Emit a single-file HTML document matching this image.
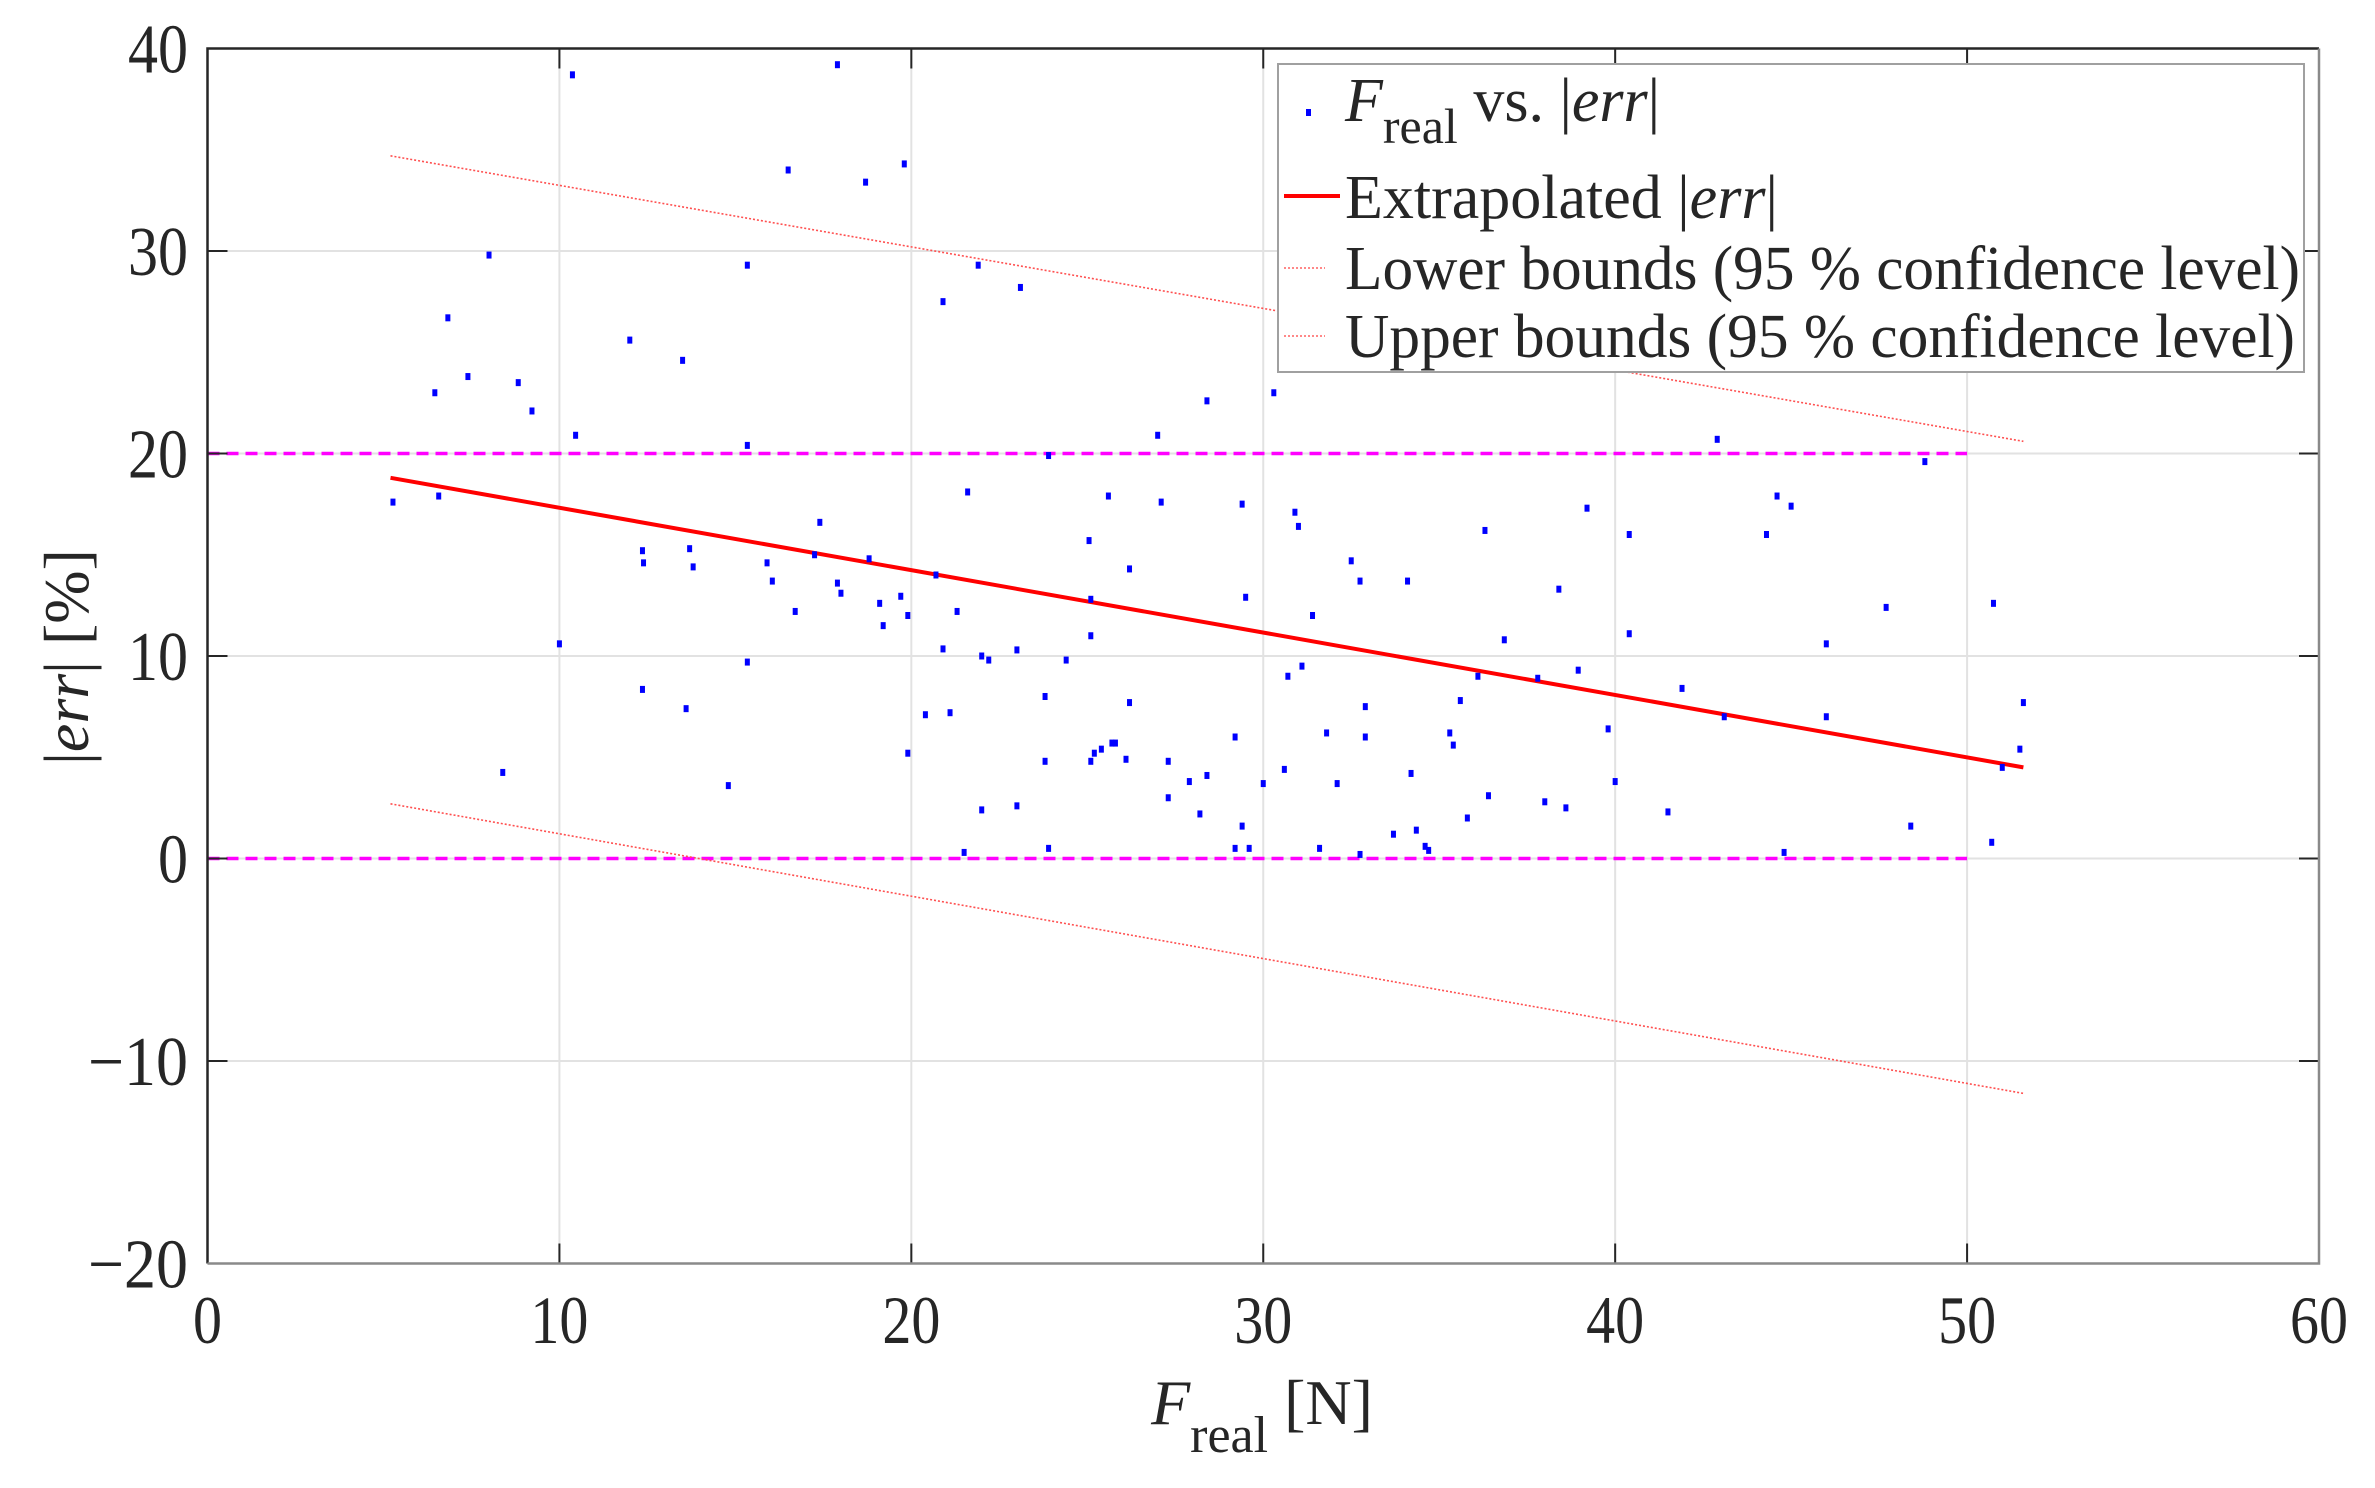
<!DOCTYPE html>
<html><head><meta charset="utf-8"><style>
html,body{margin:0;padding:0;background:#fff;}
svg{display:block;font-family:"Liberation Serif",serif;}
</style></head><body>
<svg id="chart" width="2375" height="1488" viewBox="0 0 2375 1488" xmlns="http://www.w3.org/2000/svg">
<rect x="0" y="0" width="2375" height="1488" fill="#fff"/>
<g id="grid"></g>
<g id="series"></g>
<g id="axes"></g>
<g id="legend">
<rect x="1278" y="64" width="1026" height="308" fill="#fff" stroke="#a0a0a0" stroke-width="2"/>
<rect x="1306" y="109" width="5" height="7" fill="#0000ff"/>
<text x="1345" y="121" font-size="62" fill="#262626"><tspan font-style="italic">F</tspan><tspan font-size="50" dy="22">real</tspan><tspan dy="-22"> vs. |</tspan><tspan font-style="italic">err</tspan><tspan>|</tspan></text>
<line x1="1284" y1="196" x2="1340" y2="196" stroke="#ff0000" stroke-width="4"/>
<text x="1345" y="218" font-size="62" fill="#262626">Extrapolated |<tspan font-style="italic">err</tspan>|</text>
<line x1="1284" y1="268" x2="1325" y2="268" stroke="#ff6060" stroke-width="1.5" stroke-dasharray="2,2"/>
<text x="1345" y="289" font-size="62" fill="#262626" textLength="955" lengthAdjust="spacingAndGlyphs">Lower bounds (95 % confidence level)</text>
<line x1="1284" y1="336" x2="1325" y2="336" stroke="#ff6060" stroke-width="1.5" stroke-dasharray="2,2"/>
<text x="1345" y="357" font-size="62" fill="#262626" textLength="950" lengthAdjust="spacingAndGlyphs">Upper bounds (95 % confidence level)</text>
</g>
<text transform="translate(88,657) rotate(-90)" text-anchor="middle" font-size="64" fill="#262626">|<tspan font-style="italic">err</tspan>| [%]</text>
<text x="1262" y="1424" text-anchor="middle" font-size="64" fill="#262626"><tspan font-style="italic">F</tspan><tspan font-size="52" dy="28">real</tspan><tspan dy="-28"> [N]</tspan></text>
</svg>
<script>
const xTicks = [0,10,20,30,40,50,60];
const yTicks = [-20,-10,0,10,20,30,40];
const xTickLabels = ["0","10","20","30","40","50","60"];
const yTickLabels = ["\u221220","\u221210","0","10","20","30","40"];
const pointsX = [5.27,6.57,6.46,6.83,7.40,8.0,8.39,8.83,9.22,10.0,10.37,10.46,12.0,12.36,12.36,12.39,13.5,13.6,13.7,13.8,14.8,15.34,15.34,15.34,15.9,16.05,16.5,16.7,17.4,17.25,17.9,18.7,18.8,17.9,18.0,19.1,19.2,19.7,19.9,19.8,20.9,20.7,21.3,21.6,21.9,20.9,20.4,21.1,22.0,22.2,23.1,23.0,23.9,23.8,24.4,25.05,25.1,25.1,25.6,26.2,26.2,27.1,27.0,25.7,25.2,19.9,21.5,22.0,23.0,23.8,23.9,25.1,25.4,25.8,26.1,27.3,27.3,27.9,28.2,28.4,28.4,29.2,29.4,29.5,29.4,29.2,29.6,30.0,30.3,30.6,30.7,30.9,31.0,31.1,31.4,31.6,31.8,32.1,32.5,32.75,32.9,32.9,32.75,33.7,34.1,34.2,34.35,34.6,34.7,35.3,35.4,35.6,35.8,36.1,36.3,36.4,36.85,37.8,38.0,38.4,38.6,38.95,39.2,39.8,40.0,40.4,40.4,41.5,41.9,42.9,43.1,44.3,44.6,44.8,45.0,46.0,46.0,47.7,48.4,48.8,50.7,50.75,51.0,51.5,51.6];
const pointsY = [17.6,17.9,23.0,26.7,23.8,29.8,4.25,23.5,22.1,10.6,38.7,20.9,25.6,8.35,15.2,14.6,24.6,7.4,15.3,14.4,3.6,29.3,20.4,9.7,14.6,13.7,34.0,12.2,16.6,15.0,39.2,33.4,14.8,13.6,13.1,12.6,11.5,12.95,12.0,34.3,27.5,14.0,12.2,18.1,29.3,10.35,7.1,7.2,10.0,9.8,28.2,10.3,19.9,8.0,9.8,15.7,12.8,11.0,17.9,14.3,7.7,17.6,20.9,5.7,5.2,5.2,0.3,2.4,2.6,4.8,0.5,4.8,5.4,5.7,4.9,4.8,3.0,3.8,2.2,4.1,22.6,6.0,17.5,12.9,1.6,0.5,0.5,3.7,23.0,4.4,9.0,17.1,16.4,9.5,12.0,0.5,6.2,3.7,14.7,13.7,7.5,6.0,0.2,1.2,13.7,4.2,1.4,0.6,0.4,6.2,5.6,7.8,2.0,9.0,16.2,3.1,10.8,8.9,2.8,13.3,2.5,9.3,17.3,6.4,3.8,16.0,11.1,2.3,8.4,20.7,7.0,16.0,17.9,0.3,17.4,10.6,7.0,12.4,1.6,19.6,0.8,12.6,4.5,5.4,7.7];
const fitX = [5.2,51.6];
const fitY = [18.8,4.5];
const upperY = [34.7,20.6];
const lowerY = [2.7,-11.6];
const refX = [0,50];
const refLevels = [0,20];

const L=207.5,R=2319,T=48.5,B=1263.5;
const xs=v=>L+(v-0)/60*(R-L);
const ys=v=>B-(v+20)/60*(B-T);
const NS="http://www.w3.org/2000/svg";
function mk(tag,parent,attrs){const e=document.createElementNS(NS,tag);for(const k in attrs)e.setAttribute(k,attrs[k]);parent.appendChild(e);return e;}
const grid=document.getElementById('grid'),series=document.getElementById('series'),axes=document.getElementById('axes');
xTicks.forEach((t,i)=>{
  if(t>0&&t<60){const g=mk('line',grid,{x1:xs(t),x2:xs(t),y1:T,y2:B,stroke:'#e2e2e2','stroke-width':2});
  
  }
  const tk=mk('line',axes,{x1:xs(t),x2:xs(t),y1:B,y2:B-20,stroke:'#262626','stroke-width':2});
  
  
  const tk2=mk('line',axes,{x1:xs(t),x2:xs(t),y1:T,y2:T+20,stroke:'#262626','stroke-width':2});
  
  
  const lb=mk('text',axes,{x:xs(t),y:1343,'text-anchor':'middle','font-size':68,fill:'#262626',textLength:xTickLabels[i].length*29,lengthAdjust:'spacingAndGlyphs'});
  lb.textContent=xTickLabels[i];
  
  
});
yTicks.forEach((t,i)=>{
  if(t>-20&&t<40){const g=mk('line',grid,{x1:L,x2:R,y1:ys(t),y2:ys(t),stroke:'#e2e2e2','stroke-width':2});
  
  }
  const tk=mk('line',axes,{x1:L,x2:L+20,y1:ys(t),y2:ys(t),stroke:'#262626','stroke-width':2});
  
  
  const tk2=mk('line',axes,{x1:R,x2:R-20,y1:ys(t),y2:ys(t),stroke:'#262626','stroke-width':2});
  
  
  const s=yTickLabels[i];
  const lb=mk('text',axes,{x:188,y:ys(t)+24,'text-anchor':'end','font-size':70,fill:'#262626',textLength:s.replace('\u2212','').length*30+(s[0]=='\u2212'?40:0),lengthAdjust:'spacingAndGlyphs'});
  lb.textContent=s;
  
  
});
const box=mk('path',axes,{d:`M${L},${B}L${L},${T}L${R},${T}`,fill:'none',stroke:'#262626','stroke-width':2.5});


const box2=mk('path',axes,{d:`M${L},${B}L${R},${B}L${R},${T}`,fill:'none',stroke:'#8a8a8a','stroke-width':2.5});


refLevels.forEach(v=>{
  const l=mk('line',series,{x1:xs(refX[0]),x2:xs(refX[1]),y1:ys(v),y2:ys(v),stroke:'#ff00ff','stroke-width':3.5,'stroke-dasharray':'12,7'});
  
  
});
const up=mk('line',series,{x1:xs(fitX[0]),y1:ys(upperY[0]),x2:xs(fitX[1]),y2:ys(upperY[1]),stroke:'#ff5050','stroke-width':1.6,'stroke-dasharray':'2,2'});


const lo=mk('line',series,{x1:xs(fitX[0]),y1:ys(lowerY[0]),x2:xs(fitX[1]),y2:ys(lowerY[1]),stroke:'#ff5050','stroke-width':1.6,'stroke-dasharray':'2,2'});


const fit=mk('line',series,{x1:xs(fitX[0]),y1:ys(fitY[0]),x2:xs(fitX[1]),y2:ys(fitY[1]),stroke:'#ff0000','stroke-width':4});


pointsX.forEach((x,i)=>{
  const p=mk('rect',series,{x:xs(x)-2.5,y:ys(pointsY[i])-3.5,width:5,height:7,fill:'#0000ff'});
  
  
});
</script>
</body></html>
